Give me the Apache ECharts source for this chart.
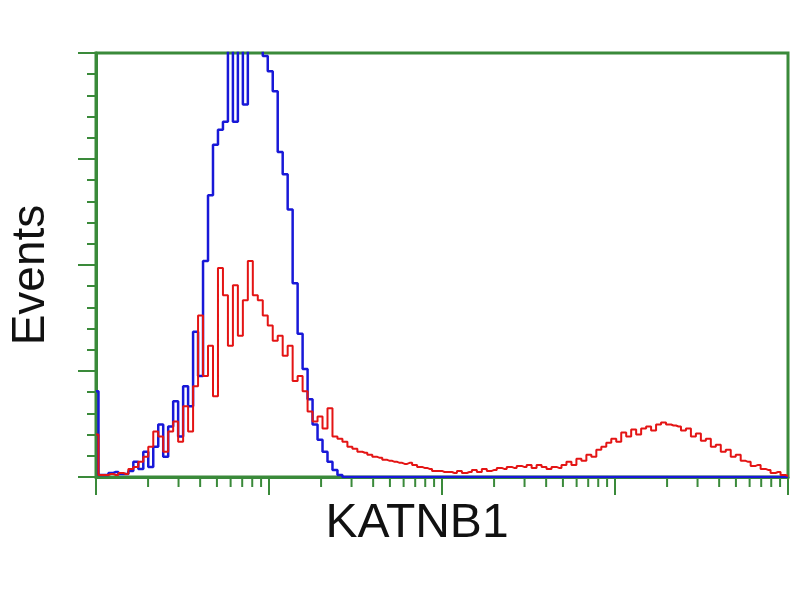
<!DOCTYPE html>
<html>
<head>
<meta charset="utf-8">
<script src="https://cdn.jsdelivr.net/npm/echarts@6/dist/echarts.min.js"></script>
<style>html,body{margin:0;padding:0;background:#fff;}#chart{width:800px;height:600px;}</style>
</head>
<body>
<div id="chart"></div>
<script>
// Histogram channels: 140 log-spaced bins from 10^0 to 10^4
const binCount = 140;
const decades = 4;
// Events per channel, blue (control) histogram, channels 0..49 (rest 0)
const blueCounts = [
  85, 2, 2, 4, 5, 3, 3, 6, 15, 8,
  25, 10, 30, 52, 20, 50, 75, 40, 90, 70,
  144, 100, 214, 279, 329, 344, 352, 490, 352, 450,
  369, 480, 520, 470, 417, 402, 382, 322, 300, 265,
  192, 142, 107, 77, 52, 37, 25, 15, 7, 2
];
// Events per channel, red (KATNB1) histogram, channels 0..139
const redCounts = [
  42, 2, 2, 3, 2, 4, 3, 8, 10, 15,
  20, 30, 45, 40, 25, 45, 55, 35, 70, 45,
  90, 160, 100, 130, 80, 207, 180, 130, 190, 140,
  175, 214, 180, 175, 160, 150, 135, 140, 120, 130,
  95, 100, 85, 65, 55, 60, 48, 68, 40, 38,
  35, 30, 28, 25, 24, 22, 20, 19, 17, 16,
  15, 14, 13, 14, 12, 10, 9, 8, 6, 6,
  5, 5, 4, 6, 4, 5, 7, 5, 8, 6,
  7, 9, 8, 10, 9, 11, 10, 12, 9, 12,
  10, 8, 10, 9, 12, 15, 12, 18, 16, 22,
  20, 27, 30, 34, 38, 35, 44, 40, 47, 42,
  48, 50, 46, 52, 54, 52, 51, 50, 46, 48,
  40, 43, 36, 38, 30, 32, 25, 27, 20, 22,
  16, 15, 11, 12, 8, 7, 4, 5, 2, 1
];
const yMax = 420;
const yInterval = 105;
const xMin = 1, xMax = 10000;
const minorMultipliers = [2, 3, 4, 5, 6, 7, 8, 9];
const xTitle = 'KATNB1';
const yTitle = 'Events';

const green = '#3a8a3a';
function channelValue(i) { return Math.pow(10, decades * i / (binCount - 1)); }
const blueData = [], redData = [];
for (let i = 0; i < binCount; i++) {
  blueData.push([channelValue(i), i < blueCounts.length ? blueCounts[i] : 0]);
  redData.push([channelValue(i), redCounts[i]]);
}
const minorTicks = [];
for (let d = 0; d < decades; d++) {
  minorMultipliers.forEach(m => minorTicks.push([m * Math.pow(10, d), 0]));
}

const chart = echarts.init(document.getElementById('chart'), null, {renderer: 'canvas'});
chart.setOption({
  animation: false,
  backgroundColor: '#ffffff',
  grid: {left: 92, right: 12, top: 53, bottom: 123, show: true, borderColor: green, borderWidth: 3, backgroundColor: '#ffffff'},
  xAxis: {
    type: 'log', min: xMin, max: xMax, logBase: 10,
    name: xTitle, nameLocation: 'middle', nameGap: 23,
    nameTextStyle: {fontFamily: 'Liberation Sans', fontSize: 48, color: '#111', padding: [0, 50, 0, 0]},
    axisLine: {show: true, lineStyle: {color: green, width: 3}},
    axisTick: {show: true, length: 18, lineStyle: {color: green, width: 2}},
    axisLabel: {show: false},
    splitLine: {show: false},
    minorTick: {show: false}
  },
  yAxis: {
    type: 'value', min: 0, max: yMax, interval: yInterval,
    name: yTitle, nameLocation: 'middle', nameGap: 42, nameRotate: 90,
    nameTextStyle: {fontFamily: 'Liberation Sans', fontSize: 46, color: '#111', padding: [0, 20, 0, 0]},
    axisLine: {show: true, lineStyle: {color: green, width: 3}},
    axisTick: {show: true, length: 18, lineStyle: {color: green, width: 2}},
    minorTick: {show: true, splitNumber: 5, length: 9, lineStyle: {color: green, width: 2}},
    axisLabel: {show: false},
    splitLine: {show: false},
    minorSplitLine: {show: false}
  },
  series: [
    {
      type: 'custom', silent: true, clip: false, z: 1,
      data: minorTicks,
      renderItem: function (params, api) {
        const p = api.coord([api.value(0), 0]);
        return {type: 'line', shape: {x1: p[0], y1: p[1], x2: p[0], y2: p[1] + 10},
          style: {stroke: green, lineWidth: 2}};
      }
    },
    {
      name: 'control', type: 'line', step: 'middle', data: blueData, symbol: 'none', z: 2,
      lineStyle: {color: '#1818d8', width: 2.5}
    },
    {
      name: 'KATNB1', type: 'line', step: 'middle', data: redData, symbol: 'none', z: 3,
      lineStyle: {color: '#e41414', width: 2}
    }
  ]
});
</script>
</body>
</html>
